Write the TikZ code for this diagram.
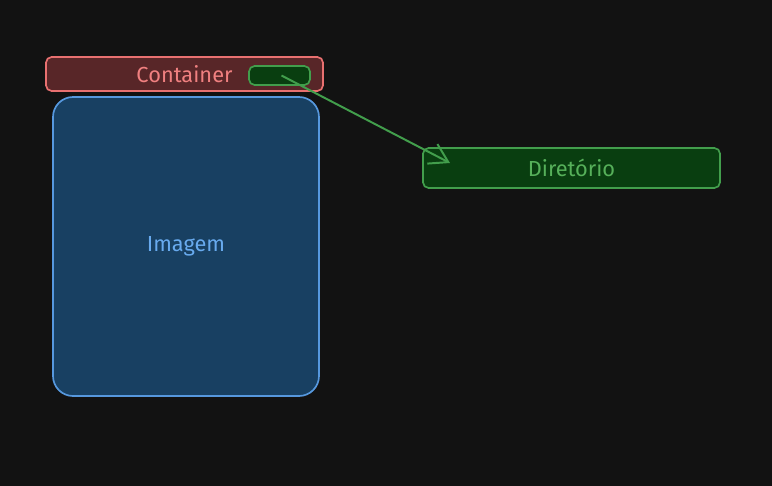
\documentclass[tikz,border=0pt]{standalone}
\usepackage{fontspec}
\setmainfont{Fira Sans}
\usepackage{tikz}
\usetikzlibrary{positioning,arrows.meta}
\definecolor{canvasbg}{RGB}{18,18,18}
\definecolor{containerbg}{RGB}{88,38,40}
\definecolor{containerdraw}{RGB}{232,112,112}
\definecolor{containertext}{RGB}{240,128,128}
\definecolor{imagebg}{RGB}{24,64,98}
\definecolor{imagedraw}{RGB}{86,152,222}
\definecolor{imagetext}{RGB}{104,170,238}
\definecolor{dirbg}{RGB}{9,62,16}
\definecolor{dirdraw}{RGB}{66,158,76}
\definecolor{dirtext}{RGB}{86,176,90}
\begin{document}
\begin{tikzpicture}[every node/.style={font=\fontsize{15.5}{18}\selectfont},box/.style={draw,line width=1.2pt,rounded corners=4pt,inner sep=0pt}]
        \fill[canvasbg] (0,0) rectangle (19.3,-12.15);
        \useasboundingbox (0,0) rectangle (19.3,-12.15);
        \node[box,fill=containerbg,draw=containerdraw,text=containertext,minimum width=6.925cm,minimum height=.85cm] (container) at (4.6125,-1.85) {Container};
        \node[box,fill=dirbg,draw=dirdraw,minimum width=1.525cm,minimum height=.475cm] (slot) at (6.9875,-1.8875) {};
        \node[box,rounded corners=.5cm,fill=imagebg,draw=imagedraw,text=imagetext,minimum width=6.65cm,minimum height=7.475cm] (image) at (4.65,-6.1625) {Imagem};
        \node[box,fill=dirbg,draw=dirdraw,text=dirtext,minimum width=7.425cm,minimum height=1cm] (dir) at (14.2875,-4.2) {Diretório};
        \coordinate (tip) at (11.25,-4.075);
        \draw[-{Straight Barb[length=4.5mm,width=5.5mm]},draw=dirdraw,line width=1.4pt] ([xshift=.05cm]slot.center)--(tip);
      \end{tikzpicture}
\end{document}
